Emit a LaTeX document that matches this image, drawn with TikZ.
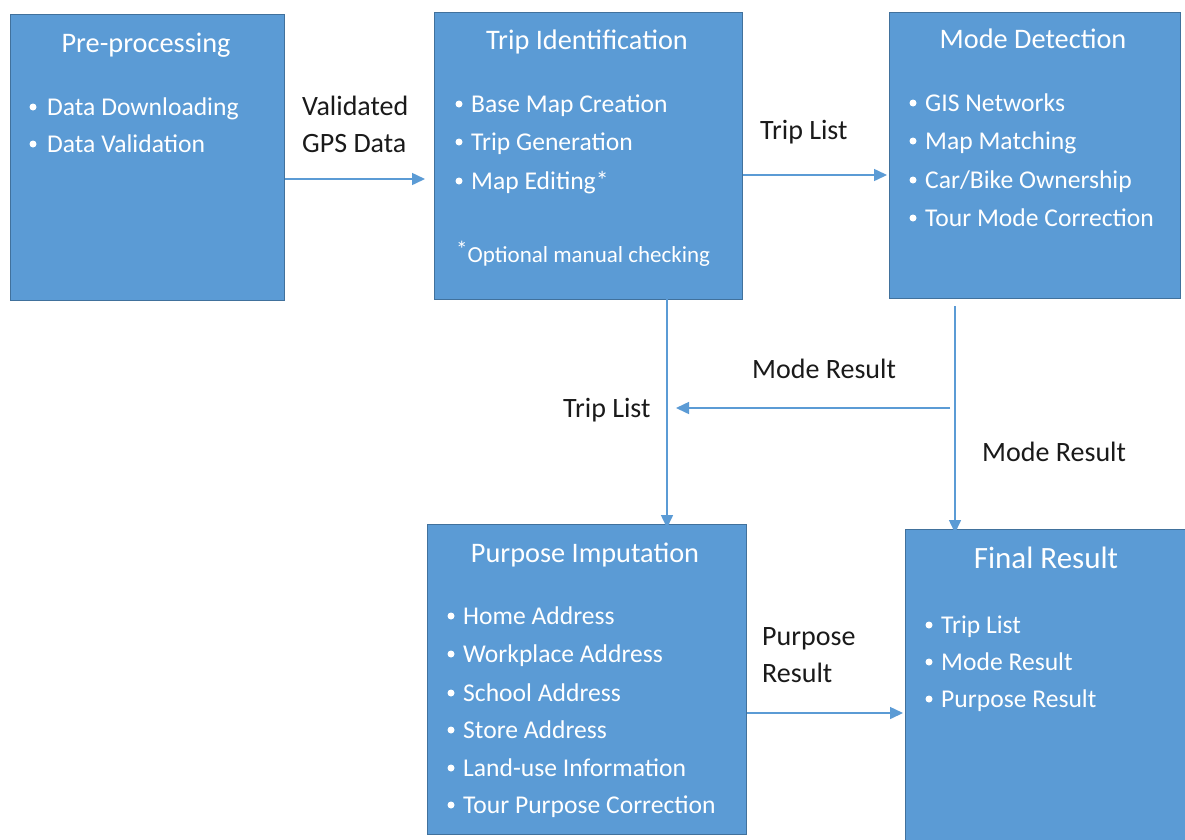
\documentclass[tikz,border=0pt]{standalone}
\usepackage{fontspec}
\setmainfont{Carlito}
\usetikzlibrary{arrows.meta}
\definecolor{boxfill}{HTML}{5B9BD5}
\definecolor{boxline}{HTML}{41719C}
\definecolor{flow}{HTML}{5B9BD5}
\definecolor{ink}{HTML}{1A1A1A}
\begin{document}
\begin{tikzpicture}[x=1pt,y=-1pt,
  stage/.style={draw=boxline, line width=1.2pt, fill=boxfill, anchor=north west, inner sep=0pt},
  stagetitle/.style={text=white, font=\fontsize{28.3}{33}\selectfont, inner sep=0pt, anchor=base},
  bullettext/.style={text=white, font=\fontsize{25.6}{30}\selectfont, inner sep=0pt, anchor=base west},
  dot/.style={circle, fill=white, inner sep=0pt, minimum size=7pt},
  note/.style={text=ink, font=\fontsize{28}{33}\selectfont, inner sep=0pt, anchor=base west},
  flowline/.style={draw=flow, line width=1.5pt, -{Triangle[length=13pt,width=12pt]}},
]
\clip (0,0) rectangle (1185,839);
\fill[white] (0,0) rectangle (1185,839);

% ---- stages ----
\node[stage, minimum width=274pt, minimum height=286pt] (pre)   at (10,14)  {};
\node[stage, minimum width=308pt, minimum height=287pt] (trip)  at (434,12) {};
\node[stage, minimum width=291pt, minimum height=286pt] (mode)  at (889,12) {};
\node[stage, minimum width=319pt, minimum height=310pt] (purp)  at (427,524) {};
\node[stage, minimum width=300pt, minimum height=330pt] (final) at (905,529) {};

% ---- Pre-processing ----
\node[stagetitle] (preT) at (146,52) {Pre-processing};
\node[dot] (preD1) at (33,107) {};
\node[bullettext] (preI1) at (47,115) {Data Downloading};
\node[dot] (preD2) at (33,144) {};
\node[bullettext] (preI2) at (47,152) {Data Validation};

% ---- Trip Identification ----
\node[stagetitle] (tripT) at (587,49) {Trip Identification};
\node[dot] (tripD1) at (459,104) {};
\node[bullettext] (tripI1) at (471,112) {Base Map Creation};
\node[dot] (tripD2) at (459,142) {};
\node[bullettext] (tripI2) at (471,150) {Trip Generation};
\node[dot] (tripD3) at (459,181) {};
\node[bullettext] (tripI3) at (471,189) {Map Editing*};
\node[text=white, font=\fontsize{23}{27}\selectfont, inner sep=0pt, anchor=base west] (tripN) at (456,262) {\raisebox{5pt}{*}Optional manual checking};

% ---- Mode Detection ----
\node[stagetitle] (modeT) at (1033,48) {Mode Detection};
\node[dot] (modeD1) at (913,103) {};
\node[bullettext] (modeI1) at (925,111) {GIS Networks};
\node[dot] (modeD2) at (913,141) {};
\node[bullettext] (modeI2) at (925,149) {Map Matching};
\node[dot] (modeD3) at (913,180) {};
\node[bullettext] (modeI3) at (925,188) {Car/Bike Ownership};
\node[dot] (modeD4) at (913,218) {};
\node[bullettext] (modeI4) at (925,226) {Tour Mode Correction};

% ---- Purpose Imputation ----
\node[stagetitle] (purpT) at (585,562) {Purpose Imputation};
\node[dot] (purpD1) at (451,616) {};
\node[bullettext] (purpI1) at (463,624) {Home Address};
\node[dot] (purpD2) at (451,654) {};
\node[bullettext] (purpI2) at (463,662) {Workplace Address};
\node[dot] (purpD3) at (451,693) {};
\node[bullettext] (purpI3) at (463,701) {School Address};
\node[dot] (purpD4) at (451,730) {};
\node[bullettext] (purpI4) at (463,738) {Store Address};
\node[dot] (purpD5) at (451,768) {};
\node[bullettext] (purpI5) at (463,776) {Land-use Information};
\node[dot] (purpD6) at (451,805) {};
\node[bullettext] (purpI6) at (463,813) {Tour Purpose Correction};

% ---- Final Result ----
\node[stagetitle, font=\fontsize{31}{37}\selectfont] (finalT) at (1046,568) {Final Result};
\node[dot] (finalD1) at (929,625) {};
\node[bullettext] (finalI1) at (941,633) {Trip List};
\node[dot] (finalD2) at (929,662) {};
\node[bullettext] (finalI2) at (941,670) {Mode Result};
\node[dot] (finalD3) at (929,699) {};
\node[bullettext] (finalI3) at (941,707) {Purpose Result};

% ---- connectors ----
\coordinate (rowA) at (0,179);
\coordinate (rowB) at (0,175);
\coordinate (rowC) at (0,713);
\coordinate (tripOut) at (667,299);
\coordinate (modeOut) at (955,306);
\coordinate (modeTap) at (950,408);
\coordinate (tripLane) at (676,408);

\draw[flowline] (pre.east |- rowA) -- ([xshift=-9pt]trip.west |- rowA);
\draw[flowline] (trip.east |- rowB) -- ([xshift=-2pt]mode.west |- rowB);
\draw[flowline] (tripOut) -- ([yshift=-4pt]tripOut |- purp.north);
\draw[flowline] (modeTap) -- (tripLane);
\draw[flowline] (modeOut) -- ([yshift=-4pt]modeOut |- final.north);
\draw[flowline] (purp.east |- rowC) -- ([xshift=-2pt]final.west |- rowC);

% ---- connector labels ----
\node[note] (lblGps1) at (302,115) {Validated};
\node[note] (lblGps2) at (302,152) {GPS Data};
\node[note] (lblTrip1) at (760,139) {Trip List};
\node[note] (lblTrip2) at (563,417) {Trip List};
\node[note] (lblMode1) at (752,378) {Mode Result};
\node[note] (lblMode2) at (982,461) {Mode Result};
\node[note] (lblPurp1) at (762,645) {Purpose};
\node[note] (lblPurp2) at (762,682) {Result};
\end{tikzpicture}
\end{document}
